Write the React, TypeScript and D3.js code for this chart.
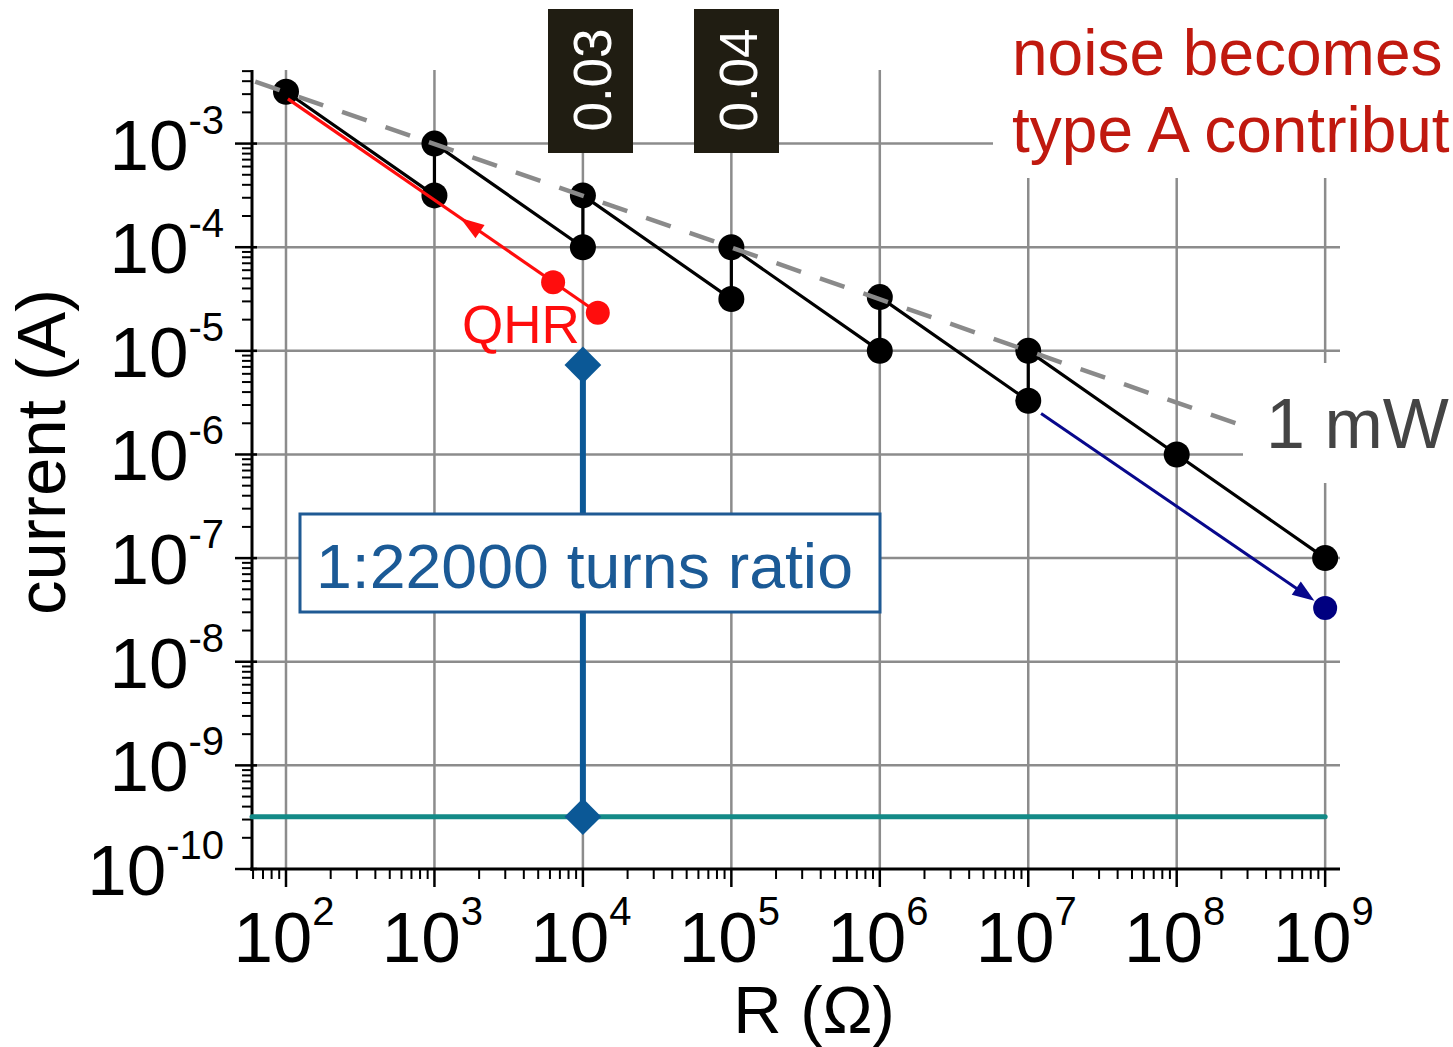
import * as d3 from "d3";
import { useEffect, useRef } from "react";

const W = 1453;
const H = 1047;
const FONT = "'Liberation Sans', Arial, Helvetica, sans-serif";

// axis decades (tick labels are 10^n)
const xDecades = [2, 3, 4, 5, 6, 7, 8, 9];
const yDecades = [-3, -4, -5, -6, -7, -8, -9, -10];
const minorSteps = [2, 3, 4, 5, 6, 7, 8, 9];

// black staircase (R in ohm, current in A)
const stepR = [1e2, 1e3, 1e3, 1e4, 1e4, 1e5, 1e5, 1e6, 1e6, 1e7, 1e7, 1e8, 1e9];
const stepI = [3.16e-3, 3.16e-4, 1e-3, 1e-4, 3.16e-4, 3.16e-5, 1e-4, 1e-5, 3.3e-5, 3.3e-6, 1e-5, 1e-6, 1e-7];

// 1 mW dashed line end points
const mwR = [62, 3e8];
const mwI = [3.96e-3, 1.83e-6];

// QHR arrow (red): dots first, then the far end
const qhrR = [1.26e4, 6.3e3, 1.03e2];
const qhrI = [2.33e-5, 4.6e-5, 2.7e-3];

// high-resistance arrow (navy)
const hiR = [1.22e7, 1e9];
const hiI = [2.49e-6, 3.3e-8];

// comparator measurement (blue) and noise floor (teal)
const ccR = 1e4;
const ccI = [7.3e-6, 3.2e-10];
const floorI = 3.2e-10;
const floorR = 1e9;

const boxLabels = ["0.03", "0.04"];

const redraw = (svgEl: SVGSVGElement) => {
  const svg = d3.select(svgEl);
  svg.selectAll("*").remove();

  const x = d3.scaleLog().domain([Math.pow(10, 1.771), Math.pow(10, 9.1)]).range([252, 1340]);
  const y = d3.scaleLog().domain([1e-10, Math.pow(10, -2.29)]).range([869, 70]);
  const [x0, x1] = x.range();
  const [yb, yt] = y.range();

  const grid = svg.append("g").attr("stroke", "#8c8c8c").attr("stroke-width", 2.5);
  xDecades.forEach(e => {
    grid.append("line").attr("x1", x(10 ** e)).attr("x2", x(10 ** e)).attr("y1", yt).attr("y2", yb);
  });
  yDecades.filter(e => e > -10).forEach(e => {
    grid.append("line").attr("x1", x0).attr("x2", x1).attr("y1", y(10 ** e)).attr("y2", y(10 ** e));
  });

  // white backgrounds of the text labels cut the grid
  svg.append("rect").attr("x", 993).attr("y", 0).attr("width", 460).attr("height", 178).attr("fill", "#fff");
  svg.append("rect").attr("x", 1243).attr("y", 363).attr("width", 210).attr("height", 120).attr("fill", "#fff");

  // axes
  const ax = svg.append("g").attr("stroke", "#000");
  ax.append("line").attr("x1", x0).attr("x2", x0).attr("y1", yt).attr("y2", yb + 2).attr("stroke-width", 3);
  ax.append("line").attr("x1", x0 - 2).attr("x2", x1).attr("y1", yb).attr("y2", yb).attr("stroke-width", 3);

  const xMinor: number[] = [];
  [1, ...xDecades].forEach(e => minorSteps.forEach(m => {
    const v = m * 10 ** e;
    if (v >= x.domain()[0] && v <= x.domain()[1]) xMinor.push(v);
  }));
  xMinor.forEach(v => ax.append("line").attr("x1", x(v)).attr("x2", x(v)).attr("y1", yb).attr("y2", yb + 10).attr("stroke-width", 2));
  xDecades.forEach(e => ax.append("line").attr("x1", x(10 ** e)).attr("x2", x(10 ** e)).attr("y1", yb).attr("y2", yb + 18).attr("stroke-width", 2.5));

  const yMinor: number[] = [];
  yDecades.forEach(e => minorSteps.forEach(m => {
    const v = m * 10 ** e;
    if (v >= y.domain()[0] && v <= y.domain()[1]) yMinor.push(v);
  }));
  yMinor.forEach(v => ax.append("line").attr("x1", x0 - 10).attr("x2", x0).attr("y1", y(v)).attr("y2", y(v)).attr("stroke-width", 2));
  yDecades.forEach(e => ax.append("line").attr("x1", x0 - 17).attr("x2", x0 + 5).attr("y1", y(10 ** e)).attr("y2", y(10 ** e)).attr("stroke-width", 2.5));

  // tick labels
  const labels = svg.append("g").attr("font-family", FONT).attr("fill", "#000");
  yDecades.forEach(e => {
    const t = labels.append("text").attr("x", 224).attr("y", y(10 ** e) + 26).attr("text-anchor", "end").attr("font-size", 71);
    t.append("tspan").text("10");
    t.append("tspan").attr("font-size", 40).attr("dy", -36).text(String(e));
  });
  xDecades.forEach(e => {
    const t = labels.append("text").attr("x", x(10 ** e) - 2).attr("y", 962).attr("text-anchor", "middle").attr("font-size", 71);
    t.append("tspan").text("10");
    t.append("tspan").attr("font-size", 40).attr("dy", -37).text(String(e));
  });

  labels.append("text").attr("transform", "translate(65,452) rotate(-90)").attr("text-anchor", "middle")
    .attr("font-size", 69).text("current (A)");
  labels.append("text").attr("x", 814).attr("y", 1033).attr("text-anchor", "middle")
    .attr("font-size", 67).text("R (\u03A9)");

  // comparator line with diamonds
  const diamond = d3.symbol().type(d3.symbolSquare).size(26 * 26);
  svg.append("line").attr("x1", x(ccR)).attr("x2", x(ccR)).attr("y1", y(ccI[0])).attr("y2", y(ccI[1]))
    .attr("stroke", "#0b5896").attr("stroke-width", 6);

  // noise floor
  svg.append("line").attr("x1", x0).attr("x2", x(floorR)).attr("y1", y(floorI)).attr("y2", y(floorI))
    .attr("stroke", "#138a87").attr("stroke-width", 5).attr("stroke-linecap", "round");

  ccI.forEach(v => {
    svg.append("path").attr("d", diamond()!).attr("fill", "#0b5896")
      .attr("transform", `translate(${x(ccR)},${y(v)}) rotate(45)`);
  });

  // black staircase
  const pts = stepR.map((r, i) => [x(r), y(stepI[i])] as [number, number]);
  svg.append("path").attr("d", d3.line()(pts)!).attr("fill", "none").attr("stroke", "#000").attr("stroke-width", 3.2);
  pts.forEach(p => svg.append("circle").attr("cx", p[0]).attr("cy", p[1]).attr("r", 13).attr("fill", "#000"));

  // red QHR arrow
  const red = "#ff0d0d";
  const rp = qhrR.map((r, i) => [x(r), y(qhrI[i])] as [number, number]);
  svg.append("path").attr("d", d3.line()([rp[0], rp[2]])!).attr("fill", "none").attr("stroke", red).attr("stroke-width", 3.2);
  const arrowHead = (tip: [number, number], from: [number, number], len: number, hw: number) => {
    const dx = tip[0] - from[0], dy = tip[1] - from[1];
    const d = Math.hypot(dx, dy);
    const ux = dx / d, uy = dy / d;
    const bx = tip[0] - ux * len, by = tip[1] - uy * len;
    return `M${tip[0]},${tip[1]}L${bx - uy * hw},${by + ux * hw}L${bx + uy * hw},${by - ux * hw}Z`;
  };
  const f = 0.35;
  const rTip: [number, number] = [rp[1][0] + (rp[2][0] - rp[1][0]) * f, rp[1][1] + (rp[2][1] - rp[1][1]) * f];
  svg.append("path").attr("d", arrowHead(rTip, rp[1], 24, 8)).attr("fill", red);
  [rp[0], rp[1]].forEach(p => svg.append("circle").attr("cx", p[0]).attr("cy", p[1]).attr("r", 12).attr("fill", red));

  // 1 mW dashed line
  svg.append("path").attr("d", d3.line()(mwR.map((r, i) => [x(r), y(mwI[i])] as [number, number]))!)
    .attr("fill", "none").attr("stroke", "#8a8a8a").attr("stroke-width", 4.5).attr("stroke-dasharray", "26 20");

  // navy arrow
  const navy = "#08088c";
  const hp = hiR.map((r, i) => [x(r), y(hiI[i])] as [number, number]);
  const hd = Math.hypot(hp[1][0] - hp[0][0], hp[1][1] - hp[0][1]);
  const hTip: [number, number] = [hp[1][0] - (hp[1][0] - hp[0][0]) / hd * 13, hp[1][1] - (hp[1][1] - hp[0][1]) / hd * 13];
  svg.append("line").attr("x1", hp[0][0]).attr("y1", hp[0][1]).attr("x2", hTip[0] - (hTip[0] - hp[0][0]) / hd * 10).attr("y2", hTip[1] - (hTip[1] - hp[0][1]) / hd * 10)
    .attr("stroke", navy).attr("stroke-width", 3);
  svg.append("path").attr("d", arrowHead(hTip, hp[0], 22, 8)).attr("fill", navy);
  svg.append("circle").attr("cx", hp[1][0]).attr("cy", hp[1][1]).attr("r", 12).attr("fill", "#000080");

  // annotation texts
  const ann = svg.append("g").attr("font-family", FONT);
  ann.append("text").attr("x", 462).attr("y", 343).attr("font-size", 53).attr("fill", red).text("QHR");
  ann.append("text").attr("x", 1266).attr("y", 448).attr("font-size", 70).attr("fill", "#444").text("1 mW");
  ann.append("text").attr("x", 1012).attr("y", 75).attr("font-size", 64).attr("fill", "#c0190f").text("noise becomes");
  ann.append("text").attr("x", 1012).attr("y", 152).attr("font-size", 64).attr("fill", "#c0190f").text("type A contribut");

  // turns ratio box
  ann.append("rect").attr("x", 300).attr("y", 514).attr("width", 580).attr("height", 98)
    .attr("fill", "#fff").attr("stroke", "#1f5a94").attr("stroke-width", 3);
  ann.append("text").attr("x", 316).attr("y", 588).attr("font-size", 63).attr("fill", "#1b5a96")
    .attr("textLength", 537).attr("lengthAdjust", "spacingAndGlyphs").text("1:22000 turns ratio");

  // dark value boxes
  const boxX = [548, 694];
  boxLabels.forEach((s, i) => {
    ann.append("rect").attr("x", boxX[i]).attr("y", 9).attr("width", 85).attr("height", 144).attr("fill", "#201d12");
    ann.append("text").attr("transform", `translate(${boxX[i] + 63},80) rotate(-90)`).attr("text-anchor", "middle")
      .attr("font-size", 53).attr("fill", "#fff").text(s);
  });
};

export default function App() {
  const ref = useRef<SVGSVGElement>(null);
  useEffect(() => {
    if (ref.current) redraw(ref.current);
  }, []);
  return (
    <svg ref={ref} width={W} height={H} style={{ position: "absolute", left: 0, top: 0, background: "#fff" }} />
  );
}
